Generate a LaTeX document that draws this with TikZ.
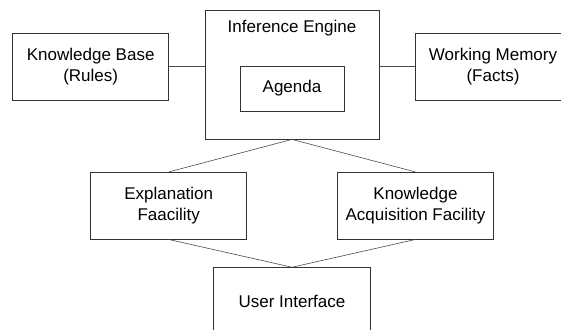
\documentclass[tikz,border=0pt]{standalone}
\usepackage{fontspec}
\setmainfont{Liberation Sans}
\usetikzlibrary{positioning}

\begin{document}
\begin{tikzpicture}[x=1pt,y=-1pt,font=\fontsize{17}{21}\selectfont,
  b/.style={draw=black!80,line width=0.8pt,minimum width=156pt,minimum height=66.7pt,inner sep=2pt,align=center},
  c/.style={draw=black!70,line width=0.6pt}]
  \useasboundingbox (0,0) rectangle (561,329);
  \node[b,minimum width=174pt,minimum height=129pt,
    label={[anchor=north,inner sep=0pt,yshift=-10pt]north:Inference Engine}] (ie) at (292,74.5) {};
  \node[b,minimum width=104pt,minimum height=45pt] (agenda) at ([yshift=-14pt]ie.center) {Agenda};
  \node[b] (kb) at (90.7,66.7) {Knowledge Base\\(Rules)};
  \node[b] (wm) at (493,66.7) {Working Memory\\(Facts)};
  \node[b] (expl) at (168.7,205.7) {Explanation\\Faacility};
  \node[b,right=90pt of expl] (kaf) {Knowledge\\Acquisition Facility};
  \node[b,minimum width=157pt] (ui) at (292,301) {User Interface};
  \draw[c](kb.east)--(kb.east-|ie.west);\draw[c](wm.west)--(wm.west-|ie.east);
  \draw[c](ie.south)--(expl.north);\draw[c](ie.south)--(kaf.north);
  \draw[c](expl.south)--(ui.north);\draw[c](kaf.south)--(ui.north);
\end{tikzpicture}
\end{document}
